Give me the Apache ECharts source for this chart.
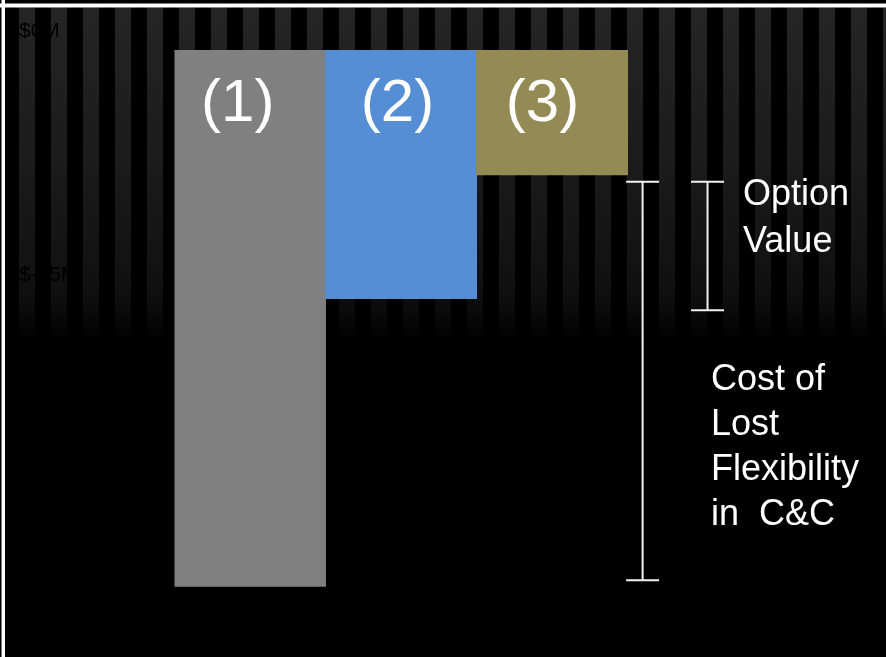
<!DOCTYPE html>
<html>
<head>
<meta charset="utf-8">
<script src="https://cdn.jsdelivr.net/npm/echarts@6/dist/echarts.min.js"></script>
<style>
  html, body { margin: 0; padding: 0; background: #000; }
  #chart { width: 886px; height: 657px; }
</style>
</head>
<body>
<div id="chart"></div>
<script>
// Scenarios and their net value in $M (bars hang down from $0M)
const categories = ['(1)', '(2)', '(3)'];
const values = [-33.0, -15.3, -7.7];
const barColors = ['#808080', '#558ed5', '#948a54'];

// Value-axis ticks that carry a label ($M)
const tickValues = [0, -15];

// Bracket annotations, [top, bottom] in $M
const optionValueRange = [-8.1, -16.0];
const lostFlexRange = [-8.1, -32.6];

// ---- layout ----
const FONT = "'Liberation Sans', Arial, sans-serif";
const PX_PER_M = 244 / 15;
const Y_MIN = -36;
const SLOT = 151;                 // width of one category slot
const SLOTS = 4;                  // three scenarios plus room for the brackets
const GRID_LEFT = 174.5;
const GRID_TOP = 50;
const BRACKET_SLOT = { lost: 3.1, option: 3.53 };
const LABEL_SHIFT = [-12.5, -3.5, -9.5];

const chart = echarts.init(document.getElementById('chart'), null, { renderer: 'canvas' });

// Striped backdrop fading out towards the middle of the slide
const stripes = [];
for (let x = 19; x < 886; x += 32) {
  stripes.push({
    type: 'rect', z: -10, silent: true,
    shape: { x: x, y: 7.5, width: 16, height: 335 },
    style: {
      fill: {
        type: 'linear', x: 0, y: 0, x2: 0, y2: 1,
        colorStops: [
          { offset: 0, color: '#252525' },
          { offset: 0.5, color: '#1a1a1a' },
          { offset: 0.85, color: '#101010' },
          { offset: 1, color: '#000000' }
        ]
      }
    }
  });
}

const frame = [
  { type: 'rect', z: 50, silent: true, shape: { x: 1.5, y: 0, width: 3.5, height: 657 }, style: { fill: '#ffffff' } },
  { type: 'rect', z: 50, silent: true, shape: { x: 0, y: 3.5, width: 886, height: 4 }, style: { fill: '#ffffff' } }
];

const notes = [
  {
    type: 'text', z: 100, silent: true, x: 743, y: 218.5,
    style: {
      text: 'Option\nValue', fill: '#ffffff', font: '36px ' + FONT,
      lineHeight: 47, textAlign: 'left', textVerticalAlign: 'middle'
    }
  },
  {
    type: 'text', z: 100, silent: true, x: 711, y: 448,
    style: {
      text: 'Cost of\nLost\nFlexibility\nin  C&C', fill: '#ffffff', font: '36px ' + FONT,
      lineHeight: 45, textAlign: 'left', textVerticalAlign: 'middle'
    }
  }
];

const bracketData = [
  [BRACKET_SLOT.lost, lostFlexRange[0], lostFlexRange[1]],
  [BRACKET_SLOT.option, optionValueRange[0], optionValueRange[1]]
];

chart.setOption({
  backgroundColor: '#000000',
  animation: false,
  graphic: { elements: stripes.concat(frame, notes) },
  grid: {
    left: GRID_LEFT, top: GRID_TOP,
    width: SLOT * SLOTS, height: -Y_MIN * PX_PER_M,
    containLabel: false, outerBoundsMode: 'none'
  },
  xAxis: [
    {
      type: 'category', data: categories.concat(['']), show: false
    },
    {
      type: 'value', min: 0, max: SLOTS, show: false
    }
  ],
  yAxis: {
    type: 'value', min: Y_MIN, max: 0, z: 5,
    axisLine: { show: false },
    axisTick: { show: false },
    splitLine: { show: false },
    axisLabel: {
      customValues: tickValues,
      formatter: v => '$' + v + 'M',
      color: '#000000',
      fontFamily: FONT,
      fontSize: 21,
      align: 'left',
      verticalAlign: 'bottom',
      padding: [0, 0, 8, 0],
      margin: GRID_LEFT - 19
    }
  },
  series: [
    {
      type: 'bar',
      xAxisIndex: 0, yAxisIndex: 0,
      barWidth: 152,
      data: values.map((v, i) => ({
        value: v,
        itemStyle: { color: barColors[i] },
        label: { offset: [LABEL_SHIFT[i], 0] }
      })),
      label: {
        show: true,
        formatter: '{b}',
        position: ['50%', 54],
        align: 'center',
        verticalAlign: 'middle',
        color: '#ffffff',
        fontFamily: FONT,
        fontSize: 60
      }
    },
    {
      type: 'custom',
      xAxisIndex: 1, yAxisIndex: 0,
      data: bracketData,
      encode: { x: 0, y: [1, 2] },
      renderItem: function (params, api) {
        const top = api.coord([api.value(0), api.value(1)]);
        const bot = api.coord([api.value(0), api.value(2)]);
        const half = 16.5;
        const style = { stroke: '#f2f2f2', lineWidth: 2 };
        return {
          type: 'group',
          children: [
            { type: 'line', shape: { x1: top[0], y1: top[1], x2: bot[0], y2: bot[1] }, style: style },
            { type: 'line', shape: { x1: top[0] - half, y1: top[1], x2: top[0] + half, y2: top[1] }, style: style },
            { type: 'line', shape: { x1: bot[0] - half, y1: bot[1], x2: bot[0] + half, y2: bot[1] }, style: style }
          ]
        };
      }
    }
  ]
});
</script>
</body>
</html>
